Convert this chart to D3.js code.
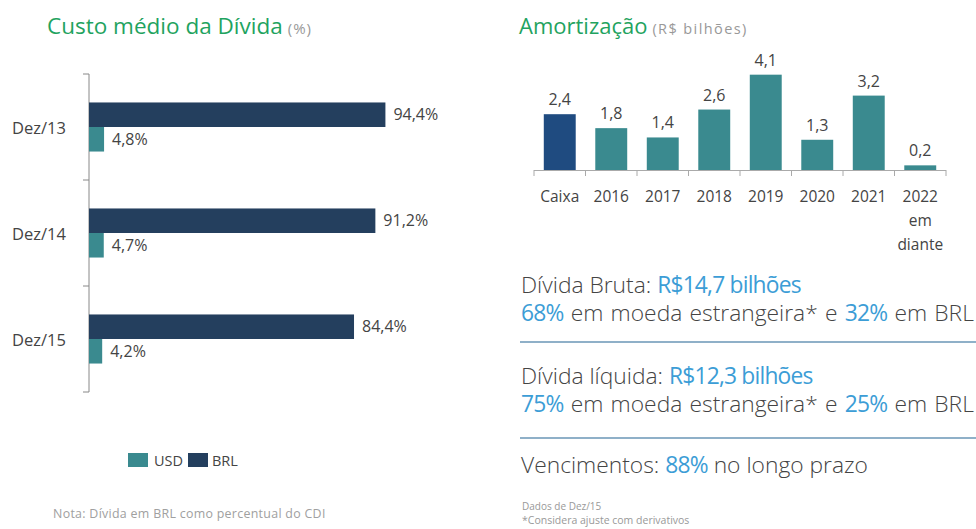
<!DOCTYPE html>
<html><head><meta charset="utf-8">
<script src="https://cdn.jsdelivr.net/npm/d3@7"></script>
<style>
html,body{margin:0;padding:0;background:#fff;}
svg text{font-family:"Open Sans","Noto Sans",sans-serif;}
</style></head>
<body>
<svg id="c" width="976" height="529"></svg>
<script>
// ---- Data: Custo médio da Dívida (%)
const costCategories = ["Dez/13", "Dez/14", "Dez/15"];
const costSeries = ["BRL", "USD"];
const brlValues = [94.4, 91.2, 84.4];
const usdValues = [4.8, 4.7, 4.2];
const brlLabels = ["94,4%", "91,2%", "84,4%"];
const usdLabels = ["4,8%", "4,7%", "4,2%"];

// ---- Data: Amortização (R$ bilhões)
const amortCategories = ["Caixa", "2016", "2017", "2018", "2019", "2020", "2021", "2022 em diante"];
const amortValues = [2.4, 1.8, 1.4, 2.6, 4.1, 1.3, 3.2, 0.2];
const amortLabels = ["2,4", "1,8", "1,4", "2,6", "4,1", "1,3", "3,2", "0,2"];

const GREEN = "#1fa360", BLUE = "#3c9dd6", TEXT = "#444", GRAY = "#8a8a8a";
const NAVY = "#243f5e", TEAL = "#3a8a8f", DARKBLUE = "#1f4b80";

const svg = d3.select("#c");

// ================= Left chart =================
const L = svg.append("g");
L.append("text").attr("x", 47).attr("y", 34).attr("font-size", 22.5).attr("fill", GREEN)
  .text("Custo médio da Dívida")
  .append("tspan").attr("font-size", 15).attr("fill", "#999").attr("dx", 5).attr("letter-spacing", 1).text("(%)");

const x = d3.scaleLinear().domain([0, 100]).range([89, 403]);
const y = d3.scaleBand().domain(costCategories).range([74, 392]);
const ySub = d3.scaleBand().domain(costSeries).range([0, y.bandwidth()]).paddingOuter(1.16);
const costColor = d3.scaleOrdinal().domain(["USD", "BRL"]).range([TEAL, NAVY]);

const rows = costCategories.map((c, i) => ({c, BRL: brlValues[i], USD: usdValues[i], lb: brlLabels[i], lu: usdLabels[i]}));

// axis line and boundary ticks
L.append("line").attr("x1", x(0)).attr("x2", x(0)).attr("y1", y.range()[0]).attr("y2", y.range()[1])
  .attr("stroke", "#888").attr("stroke-width", 1);
const bounds = costCategories.map(c => y(c)).concat([y.range()[1]]);
L.selectAll(".bt").data(bounds).join("line")
  .attr("x1", x(0) - 6).attr("x2", x(0)).attr("y1", d => d).attr("y2", d => d)
  .attr("stroke", "#888");

// category labels
const yAxis = d3.axisLeft(y).tickSize(0).tickPadding(0);
const ya = L.append("g").attr("transform", `translate(66,0)`).call(yAxis);
ya.select(".domain").remove();
ya.selectAll("text").attr("font-size", 16.5).attr("fill", TEXT).attr("font-family", "Open Sans").attr("dy", "0.45em");

const grp = L.selectAll(".grp").data(rows).join("g").attr("transform", d => `translate(0,${y(d.c)})`);
costSeries.forEach(s => {
  grp.append("rect").attr("x", x(0)).attr("y", ySub(s)).attr("height", ySub.bandwidth())
    .attr("width", d => x(d[s]) - x(0)).attr("fill", costColor(s));
  grp.append("text").attr("x", d => x(d[s]) + 8).attr("y", ySub(s) + ySub.bandwidth() / 2)
    .attr("dy", "0.36em").attr("font-size", 16).attr("fill", TEXT)
    .text(d => s === "BRL" ? d.lb : d.lu);
});

// legend
const leg = L.append("g").attr("transform", "translate(128,453)");
[["USD", 0, 26], ["BRL", 60, 84]].forEach(([k, sx, tx]) => {
  leg.append("rect").attr("x", sx).attr("y", 0).attr("width", 20).attr("height", 14).attr("fill", costColor(k));
  leg.append("text").attr("x", tx).attr("y", 12.5).attr("font-size", 14.5).attr("fill", TEXT).text(k);
});
L.append("text").attr("x", 53).attr("y", 518).attr("font-size", 12.4).attr("letter-spacing", 0.3).attr("fill", "#a0a0a0")
  .text("Nota: Dívida em BRL como percentual do CDI");

// ================= Right chart =================
const R = svg.append("g");
R.append("text").attr("x", 519).attr("y", 34).attr("font-size", 22).attr("fill", GREEN)
  .text("Amortização")
  .append("tspan").attr("font-size", 14.5).attr("fill", "#999").attr("dx", 5).attr("letter-spacing", 1.4).text("(R$ bilhões)");

const xb = d3.scaleBand().domain(amortCategories).range([534, 946]).paddingInner(0.38).paddingOuter(0.19);
const yb = d3.scaleLinear().domain([0, 5]).range([170, 53.75]);

R.selectAll(".ab").data(amortCategories).join("rect")
  .attr("x", d => xb(d)).attr("width", xb.bandwidth())
  .attr("y", (d, i) => yb(amortValues[i])).attr("height", (d, i) => yb(0) - yb(amortValues[i]))
  .attr("fill", (d, i) => i === 0 ? DARKBLUE : TEAL);
R.selectAll(".av").data(amortCategories).join("text")
  .attr("x", d => xb(d) + xb.bandwidth() / 2).attr("y", (d, i) => yb(amortValues[i]) - 9)
  .attr("text-anchor", "middle").attr("font-size", 16).attr("fill", TEXT)
  .text((d, i) => amortLabels[i]);

// x axis: baseline + ticks at band boundaries
const step = xb.step();
const x0 = xb.range()[0];
R.append("line").attr("x1", x0).attr("x2", xb.range()[1]).attr("y1", yb(0) + 0.5).attr("y2", yb(0) + 0.5)
  .attr("stroke", "#aaa");
R.selectAll(".xt").data(d3.range(amortCategories.length + 1)).join("line")
  .attr("x1", i => x0 + i * step).attr("x2", i => x0 + i * step)
  .attr("y1", yb(0)).attr("y2", yb(0) + 6).attr("stroke", "#aaa");
const xl = R.selectAll(".xl").data(amortCategories).join("text")
  .attr("x", d => xb(d) + xb.bandwidth() / 2).attr("y", 202)
  .attr("text-anchor", "middle").attr("font-size", 15.5).attr("fill", TEXT);
xl.each(function (d) {
  const parts = d.split(" ");
  const t = d3.select(this);
  parts.forEach((p, i) => t.append("tspan").attr("x", xb(d) + xb.bandwidth() / 2).attr("dy", i === 0 ? 0 : 24).text(p));
});

// ================= Summary text =================
const fs = 22.8;
function richLine(yPos, parts, ws) {
  const t = R.append("text").attr("x", 521).attr("y", yPos).attr("font-size", fs).attr("font-weight", 300)
    .attr("word-spacing", ws || 0).attr("fill", TEXT);
  parts.forEach(([s, hl]) => t.append("tspan").attr("fill", hl ? BLUE : TEXT)
    .attr("font-weight", hl ? 400 : 300).attr("letter-spacing", hl ? -0.8 : 0).text(s));
  return t;
}
richLine(293, [["Dívida Bruta: ", 0], ["R$14,7 bilhões", 1]]);
richLine(321, [["68%", 1], [" em moeda estrangeira* e ", 0], ["32%", 1], [" em BRL", 0]], 1.3);
R.append("line").attr("x1", 520).attr("x2", 976).attr("y1", 342).attr("y2", 342).attr("stroke", "#8fb0c8").attr("stroke-width", 2);
richLine(384, [["Dívida líquida: ", 0], ["R$12,3 bilhões", 1]]);
richLine(412, [["75%", 1], [" em moeda estrangeira* e ", 0], ["25%", 1], [" em BRL", 0]], 1.3);
R.append("line").attr("x1", 520).attr("x2", 976).attr("y1", 438).attr("y2", 438).attr("stroke", "#8fb0c8").attr("stroke-width", 2);
richLine(473, [["Vencimentos:  ", 0], ["88%", 1], [" no longo prazo", 0]]);
R.append("text").attr("x", 522).attr("y", 510).attr("font-size", 10).attr("fill", "#999").text("Dados de Dez/15");
R.append("text").attr("x", 522).attr("y", 524).attr("font-size", 10.5).attr("fill", "#999").text("*Considera ajuste com derivativos");
</script>
</body></html>
